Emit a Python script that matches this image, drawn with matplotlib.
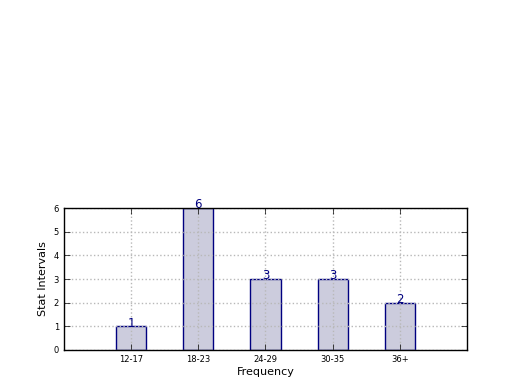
import matplotlib
matplotlib.use("Agg")
import matplotlib.pyplot as plt

categories = ["12-17", "18-23", "24-29", "30-35", "36+"]
counts = [1, 6, 3, 3, 2]
positions = [1, 2, 3, 4, 5]

fig = plt.figure(figsize=(5.2, 3.9), dpi=100, facecolor="white")
ax = fig.add_axes([0.123, 0.1026, 0.775, 0.364])
ax.bar(positions, counts, width=0.45, color="#ccccdd", edgecolor="#000080",
       linewidth=1.0, align="center", zorder=2)
for x, v in zip(positions, counts):
    ax.annotate(str(v), (x, v), xytext=(0, -2.5), textcoords="offset points",
                ha="center", va="bottom", color="#000080", fontsize=8.5)
ax.set_xlim(0, 6)
ax.set_ylim(0, 6)
ax.set_xticks(positions)
ax.set_xticklabels(categories, fontsize=6)
ax.set_yticks(range(0, 7))
ax.tick_params(axis="y", labelsize=6)
ax.tick_params(direction="in", top=True, right=True, length=4, width=0.5)
ax.grid(True, linestyle=":", color="#b8b8b8", linewidth=1.0, zorder=3)
ax.set_axisbelow(False)
for s in ax.spines.values():
    s.set_linewidth(1.0)
    s.set_zorder(5)
ax.set_xlabel("Frequency", fontsize=8, labelpad=2)
ax.set_ylabel("Stat Intervals", fontsize=8, labelpad=4)
fig.savefig("out.png", dpi=100, facecolor="white")
